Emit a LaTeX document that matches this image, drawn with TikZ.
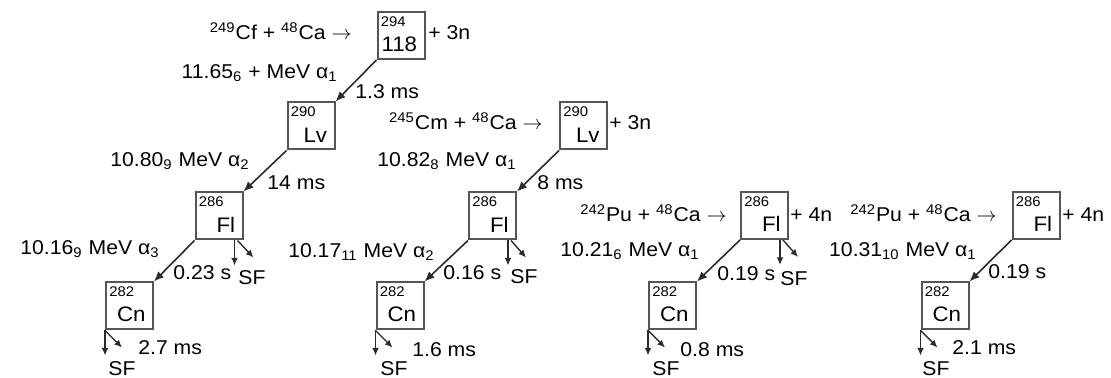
\documentclass[tikz,border=0pt]{standalone}
\usepackage{fontspec}
\setmainfont{Liberation Sans}[FakeStretch=1.06]
\usepackage{tikz}
\usetikzlibrary{arrows.meta}

\definecolor{boxgray}{HTML}{555555}
\definecolor{inkgray}{HTML}{2B2B2B}

\newcommand{\yields}{\ensuremath{\rightarrow}}

\begin{document}
\begin{tikzpicture}[
  x=0.5pt, y=-0.5pt,
  nuc/.style={rectangle, draw=boxgray, line width=1pt, minimum size=23.5pt, inner sep=0pt},
  mass/.style={anchor=north west, font=\fontsize{7}{8}\selectfont, inner xsep=2pt, inner ysep=2.5pt},
  elem/.style={anchor=south east, font=\fontsize{10.5}{12}\selectfont, inner xsep=4pt, inner ysep=4pt},
  txt/.style={inner sep=0pt, font=\fontsize{10}{12}\selectfont},
  alphadecay/.style={->, draw=inkgray, line width=0.8pt},
  sfdecay/.style={->, draw=inkgray, line width=0.7pt, >={Latex[length=3.8pt,width=3.4pt]}},
  >={Latex[length=5pt,width=4.2pt]}
]
\useasboundingbox (0,0) rectangle (1111,378);

% chain 1: 249Cf + 48Ca
\node[nuc, label={[mass]north west:294}, label={[elem]south east:118}] (n118) at (401,35.5) {};
\node[nuc, label={[mass]north west:290}, label={[elem]south east:Lv}]  (lv1)  at (311,126) {};
\node[nuc, label={[mass]north west:286}, label={[elem]south east:Fl}]  (fl1)  at (219,216) {};
\node[nuc, label={[mass]north west:282}, label={[elem]south east:Cn}]  (cn1)  at (129.5,306) {};

\node[txt, anchor=base east] (rx1) at (352,40) {\textsuperscript{249}Cf + \textsuperscript{48}Ca \yields};
\node[txt, anchor=base west] (pn1) at (428,40) {+ 3n};
\node[txt, anchor=base east] (ea1) at (338,79)  {11.65\textsubscript{6} + MeV α\textsubscript{1}};
\node[txt, anchor=base west] (ht1) at (355,99)  {1.3 ms};
\node[txt, anchor=base east] (ea2) at (250,167) {10.80\textsubscript{9} MeV α\textsubscript{2}};
\node[txt, anchor=base west] (ht2) at (267,190) {14 ms};
\node[txt, anchor=base east] (ea3) at (160,255) {10.16\textsubscript{9} MeV α\textsubscript{3}};
\node[txt, anchor=base west] (ht3) at (173,280) {0.23 s};
\node[txt, anchor=base west] (sf1) at (238,285) {SF};
\node[txt, anchor=base west] (ht4) at (138,355) {2.7 ms};
\node[txt, anchor=base west] (sf2) at (108,375) {SF};

\draw[alphadecay] (n118.south west) -- (lv1.north east);
\draw[alphadecay] (lv1.south west) -- (fl1.north east);
\draw[alphadecay] (fl1.south west) -- (cn1.north east);

\coordinate (fl1d) at ([shift={(-9,25)}]fl1.south east);
\coordinate (fl1r) at ([shift={(10,17)}]fl1.south east);
\draw[sfdecay] ([shift={(-9,0)}]fl1.south east) -- (fl1d);
\draw[sfdecay] ([shift={(-6,0)}]fl1.south east) -- (fl1r);
\coordinate (cn1d) at ([shift={(0,25)}]cn1.south west);
\coordinate (cn1r) at ([shift={(17,17)}]cn1.south west);
\draw[sfdecay] (cn1.south west) -- (cn1d);
\draw[sfdecay] (cn1.south west) -- (cn1r);

% chain 2: 245Cm + 48Ca
\node[nuc, label={[mass]north west:290}, label={[elem]south east:Lv}] (lv2) at (583.5,126) {};
\node[nuc, label={[mass]north west:286}, label={[elem]south east:Fl}] (fl2) at (492.5,216) {};
\node[nuc, label={[mass]north west:282}, label={[elem]south east:Cn}] (cn2) at (400,306) {};

\node[txt, anchor=base east] (rx2) at (543,130) {\textsuperscript{245}Cm + \textsuperscript{48}Ca \yields};
\node[txt, anchor=base west] (pn2) at (609,130) {+ 3n};
\node[txt, anchor=base east] (ea4) at (517,167) {10.82\textsubscript{8} MeV α\textsubscript{1}};
\node[txt, anchor=base west] (ht5) at (537,190) {8 ms};
\node[txt, anchor=base east] (ea5) at (435,258) {10.17\textsubscript{11} MeV α\textsubscript{2}};
\node[txt, anchor=base west] (ht6) at (443,280) {0.16 s};
\node[txt, anchor=base west] (sf3) at (510,284) {SF};
\node[txt, anchor=base west] (ht7) at (412,357) {1.6 ms};
\node[txt, anchor=base west] (sf4) at (380,375) {SF};

\draw[alphadecay] (lv2.south west) -- (fl2.north east);
\draw[alphadecay] (fl2.south west) -- (cn2.north east);

\coordinate (fl2d) at ([shift={(-9,25)}]fl2.south east);
\coordinate (fl2r) at ([shift={(9,17)}]fl2.south east);
\draw[sfdecay] ([shift={(-9,0)}]fl2.south east) -- (fl2d);
\draw[sfdecay] ([shift={(-6,0)}]fl2.south east) -- (fl2r);
\coordinate (cn2d) at ([shift={(0,25)}]cn2.south west);
\coordinate (cn2r) at ([shift={(17,17)}]cn2.south west);
\draw[sfdecay] (cn2.south west) -- (cn2d);
\draw[sfdecay] (cn2.south west) -- (cn2r);

% chain 3: 242Pu + 48Ca
\node[nuc, label={[mass]north west:286}, label={[elem]south east:Fl}] (fl3) at (764.5,215.5) {};
\node[nuc, label={[mass]north west:282}, label={[elem]south east:Cn}] (cn3) at (672.5,306) {};

\node[txt, anchor=base east] (rx3) at (727,222) {\textsuperscript{242}Pu + \textsuperscript{48}Ca \yields};
\node[txt, anchor=base west] (pn3) at (790,222) {+ 4n};
\node[txt, anchor=base east] (ea6) at (700,257) {10.21\textsubscript{6} MeV α\textsubscript{1}};
\node[txt, anchor=base west] (ht8) at (717,281) {0.19 s};
\node[txt, anchor=base west] (sf5) at (780,286) {SF};
\node[txt, anchor=base west] (ht9) at (680,357) {0.8 ms};
\node[txt, anchor=base west] (sf6) at (652,375) {SF};

\draw[alphadecay] (fl3.south west) -- (cn3.north east);

\coordinate (fl3d) at ([shift={(-9,25)}]fl3.south east);
\coordinate (fl3r) at ([shift={(9,17)}]fl3.south east);
\draw[sfdecay] ([shift={(-9,0)}]fl3.south east) -- (fl3d);
\draw[sfdecay] ([shift={(-6,0)}]fl3.south east) -- (fl3r);
\coordinate (cn3d) at ([shift={(0,25)}]cn3.south west);
\coordinate (cn3r) at ([shift={(17,17)}]cn3.south west);
\draw[sfdecay] (cn3.south west) -- (cn3d);
\draw[sfdecay] (cn3.south west) -- (cn3r);

% chain 4: 242Pu + 48Ca
\node[nuc, label={[mass]north west:286}, label={[elem]south east:Fl}] (fl4) at (1036,215.5) {};
\node[nuc, label={[mass]north west:282}, label={[elem]south east:Cn}] (cn4) at (945,306) {};

\node[txt, anchor=base east] (rx4) at (997,222) {\textsuperscript{242}Pu + \textsuperscript{48}Ca \yields};
\node[txt, anchor=base west] (pn4) at (1062,222) {+ 4n};
\node[txt, anchor=base east] (ea7) at (977,257) {10.31\textsubscript{10} MeV α\textsubscript{1}};
\node[txt, anchor=base west] (ht10) at (988,279) {0.19 s};
\node[txt, anchor=base west] (ht11) at (952,355) {2.1 ms};
\node[txt, anchor=base west] (sf7) at (922,375) {SF};

\draw[alphadecay] (fl4.south west) -- (cn4.north east);

\coordinate (cn4d) at ([shift={(0,25)}]cn4.south west);
\coordinate (cn4r) at ([shift={(17,17)}]cn4.south west);
\draw[sfdecay] (cn4.south west) -- (cn4d);
\draw[sfdecay] (cn4.south west) -- (cn4r);
\end{tikzpicture}
\end{document}
